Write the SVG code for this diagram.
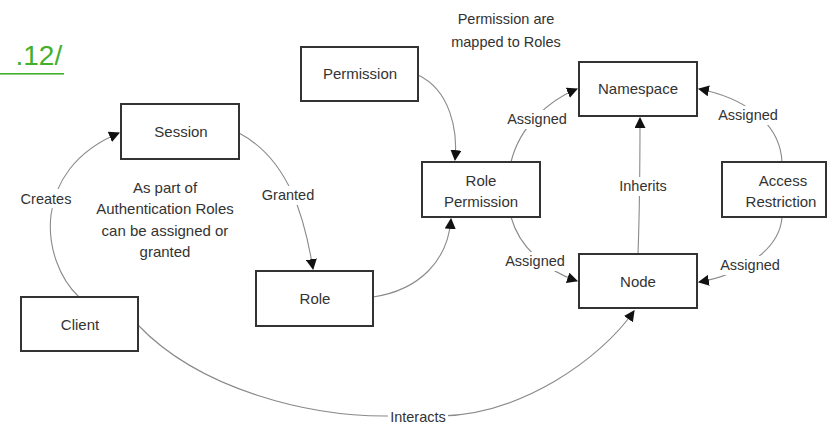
<svg xmlns="http://www.w3.org/2000/svg" width="827" height="424" viewBox="0 0 827 424">
<style>
.box{fill:#fff;stroke:#333;stroke-width:2}
.t{font-family:"Liberation Sans",Arial,sans-serif;font-size:15px;fill:#333;text-anchor:middle}
.lbl{font-family:"Liberation Sans",Arial,sans-serif;font-size:14.5px;fill:#333;text-anchor:middle}
.c{fill:none;stroke:#8a8a8a;stroke-width:1.1}
.bg{fill:#fff}
</style>
<defs>
<marker id="ah" viewBox="0 0 10 10" refX="9" refY="5" markerWidth="11" markerHeight="11" markerUnits="userSpaceOnUse" orient="auto">
<path d="M0,0 L10,5 L0,10 z" fill="#111"/>
</marker>
</defs>
<rect width="827" height="424" fill="#fff"/>
<g id="link">
<text x="15.5" y="65" font-family="Liberation Sans,Arial,sans-serif" font-size="28" fill="#43b02a">.12/</text>
<rect x="0" y="73" width="64" height="1.6" fill="#43b02a"/>
</g>
<g id="connectors">
<path class="c" d="M79,297 C40,260 30,170 119,133" marker-end="url(#ah)"/>
<path class="c" d="M239,133 C290,160 305,220 313,269" marker-end="url(#ah)"/>
<path class="c" d="M373,297 C420,290 448,260 451,219" marker-end="url(#ah)"/>
<path class="c" d="M418,75 C450,90 458,130 455,160" marker-end="url(#ah)"/>
<path class="c" d="M511,162 C520,125 550,100 577,89" marker-end="url(#ah)"/>
<path class="c" d="M511,217 C520,250 550,272 577,281" marker-end="url(#ah)"/>
<path class="c" d="M638,254 C640,200 640,150 640,118" marker-end="url(#ah)"/>
<path class="c" d="M782,162 C780,120 740,97 699,89" marker-end="url(#ah)"/>
<path class="c" d="M782,217 C780,250 740,275 699,282" marker-end="url(#ah)"/>
<path class="c" d="M138,325 C200,390 310,417 390,416 L440,416 C520,415 600,360 634,311" marker-end="url(#ah)"/>
<rect class="bg" x="18" y="189" width="56" height="19"/>
<text class="lbl" x="46" y="204">Creates</text>
<rect class="bg" x="259" y="186" width="58" height="19"/>
<text class="lbl" x="288" y="200">Granted</text>
<rect class="bg" x="505" y="110" width="64" height="19"/>
<text class="lbl" x="537" y="124">Assigned</text>
<rect class="bg" x="503" y="252" width="64" height="19"/>
<text class="lbl" x="535" y="266">Assigned</text>
<rect class="bg" x="614" y="177" width="58" height="19"/>
<text class="lbl" x="643" y="191">Inherits</text>
<rect class="bg" x="716" y="106" width="64" height="19"/>
<text class="lbl" x="748" y="120">Assigned</text>
<rect class="bg" x="718" y="256" width="64" height="19"/>
<text class="lbl" x="750" y="270">Assigned</text>
<rect class="bg" x="388" y="408" width="60" height="16"/>
<text class="lbl" x="418" y="422">Interacts</text>
</g>
<g id="note-permission">
<text class="lbl" x="506" y="24">Permission are</text>
<text class="lbl" x="506" y="47">mapped to Roles</text>
</g>
<g id="note-auth">
<text class="t" x="165" y="193">As part of</text>
<text class="t" x="165" y="214">Authentication Roles</text>
<text class="t" x="165" y="236">can be assigned or</text>
<text class="t" x="165" y="257">granted</text>
</g>
<g id="session"><rect class="box" x="121" y="104" width="118" height="55"/><text class="t" x="181" y="137">Session</text></g>
<g id="permission"><rect class="box" x="301" y="47" width="117" height="54"/><text class="t" x="360" y="79">Permission</text></g>
<g id="client"><rect class="box" x="21" y="297" width="117" height="54"/><text class="t" x="80" y="330">Client</text></g>
<g id="role"><rect class="box" x="256" y="271" width="117" height="55"/><text class="t" x="315" y="304">Role</text></g>
<g id="role-permission"><rect class="box" x="422" y="162" width="118" height="55"/><text class="t" x="481" y="186">Role</text><text class="t" x="481" y="207">Permission</text></g>
<g id="namespace"><rect class="box" x="579" y="62" width="118" height="54"/><text class="t" x="638" y="94">Namespace</text></g>
<g id="access-restriction"><rect class="box" x="722" y="162" width="104" height="55"/><text class="t" x="783" y="186">Access</text><text class="t" x="781" y="207">Restriction</text></g>
<g id="node"><rect class="box" x="579" y="254" width="118" height="54"/><text class="t" x="638" y="287">Node</text></g>
</svg>
